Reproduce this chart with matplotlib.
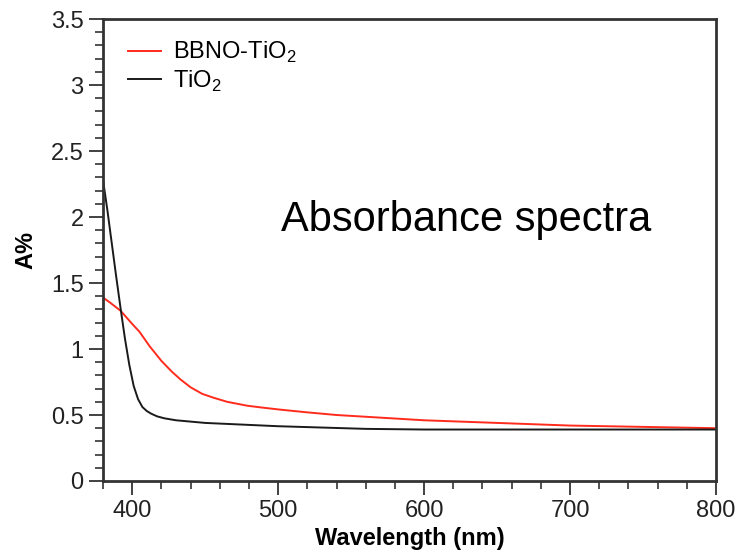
import matplotlib
matplotlib.use("Agg")
import matplotlib.pyplot as plt
from matplotlib.ticker import MultipleLocator

plt.rcParams['font.family'] = ['Liberation Sans', 'DejaVu Sans']
plt.rcParams['mathtext.fontset'] = 'custom'
plt.rcParams['mathtext.rm'] = 'Liberation Sans'

# Data
bbno_wl = [380, 385, 392, 400, 405, 412, 420, 427, 433, 440, 448, 456, 465,
           479, 490, 502, 520, 540, 570, 600, 650, 700, 750, 800]
bbno_abs = [1.39, 1.35, 1.29, 1.19, 1.13, 1.02, 0.91, 0.83, 0.77, 0.71, 0.66,
            0.63, 0.60, 0.57, 0.555, 0.54, 0.52, 0.50, 0.48, 0.46, 0.44, 0.42,
            0.41, 0.40]

tio2_wl = [380, 383, 386, 389, 392, 395, 398, 401, 404, 407, 410, 413, 417,
           422, 430, 450, 470, 500, 530, 560, 600, 700, 800]
tio2_abs = [2.28, 2.05, 1.80, 1.55, 1.31, 1.08, 0.88, 0.72, 0.62, 0.56, 0.53,
            0.51, 0.49, 0.475, 0.46, 0.44, 0.43, 0.415, 0.405, 0.395, 0.39,
            0.39, 0.39]

series_labels = ['BBNO-TiO$_\\mathregular{2}$', 'TiO$_\\mathregular{2}$']
annotation = 'Absorbance spectra'

fig = plt.figure(figsize=(7.37, 5.53), dpi=100)
ax = fig.add_axes([0.1398, 0.1302, 0.8317, 0.8354])

ax.plot(bbno_wl, bbno_abs, color='#ff2b1c', lw=1.4, label=series_labels[0])
ax.plot(tio2_wl, tio2_abs, color='#1a1a1a', lw=1.4, label=series_labels[1])

ax.set_xlim(380, 800)
ax.set_ylim(0, 3.5)
ax.xaxis.set_major_locator(MultipleLocator(100))
ax.xaxis.set_minor_locator(MultipleLocator(20))
ax.yaxis.set_major_locator(MultipleLocator(0.5))
ax.yaxis.set_minor_locator(MultipleLocator(0.1))
ax.set_yticks([0, 0.5, 1, 1.5, 2, 2.5, 3, 3.5])
ax.set_yticklabels(['0', '0.5', '1', '1.5', '2', '2.5', '3', '3.5'])

ax.tick_params(which='major', direction='out', length=10, width=1.3,
               color='#333333', labelsize=17, labelcolor='#222222', pad=4)
ax.tick_params(which='minor', direction='out', length=5.5, width=1.2,
               color='#333333')
for s in ax.spines.values():
    s.set_linewidth(2)
    s.set_color('#333333')

ax.set_xlabel('Wavelength (nm)', fontsize=17, fontweight='bold', labelpad=3)
ax.set_ylabel('A%', fontsize=17, fontweight='bold', labelpad=10)

ax.text(0.29, 0.565, annotation, transform=ax.transAxes, fontsize=30,
        color='black', ha='left', va='center')

ax.legend(loc='upper left', bbox_to_anchor=(0.041, 0.955), frameon=False,
          fontsize=17, borderaxespad=0, borderpad=0, handlelength=1.4,
          handletextpad=0.5, labelspacing=0.15)

fig.savefig('out.png', dpi=100)
